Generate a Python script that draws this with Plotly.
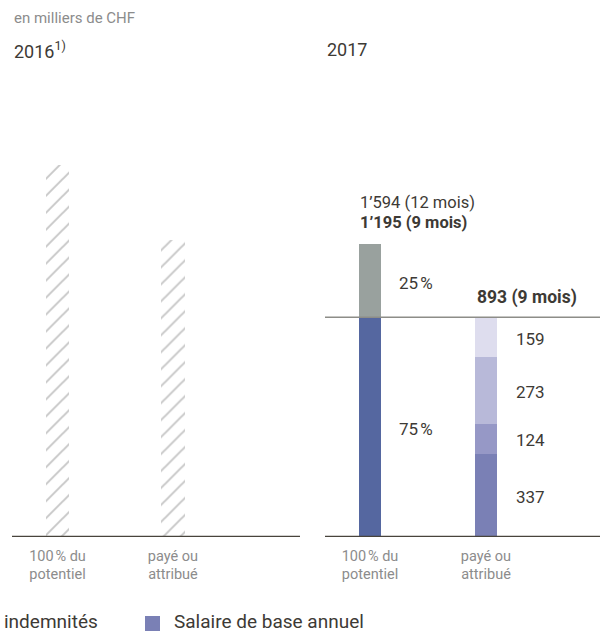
import plotly.graph_objects as go

# ---- data ----
categories = ["100\u202f% du<br>potentiel", "payé ou<br>attribué"]
values_2016 = [1517, 1211]            # hatched bars (2016, unlabelled)
potentiel_9m = 1195                   # 2017, 9 months
potentiel_12m = 1594                  # 2017, 12 months
potentiel_shares = [75, 25]           # % split of potential
paid_segments = [337, 124, 273, 159]  # paid / awarded components (bottom->top)
paid_total = 893

seg_colors = ["#7A80B5", "#9698C6", "#B8B9D9", "#DEDDEE"]
share_colors = ["#5567A0", "#99A19E"]

FONT = "Roboto"
DARK = "#3d3a35"
GREY = "#8c8c8c"

fig = go.Figure()

# 2016 hatched bars
fig.add_trace(go.Bar(
    x=[0, 1], y=values_2016, xaxis="x", yaxis="y", width=0.2,
    marker=dict(color="white", line=dict(width=0),
                pattern=dict(shape="/", fgcolor="#8e8e8e", bgcolor="white",
                             size=12, solidity=0.16)),
    showlegend=False, hoverinfo="skip"))

# 2017 potential split
share_vals = [potentiel_9m * s / 100 for s in potentiel_shares]
for v, c in zip(share_vals, share_colors):
    fig.add_trace(go.Bar(x=[0], y=[v], xaxis="x2", yaxis="y", width=0.19,
                         marker=dict(color=c, line=dict(width=0)),
                         showlegend=False, hoverinfo="skip"))
# 2017 paid segments
for v, c in zip(paid_segments, seg_colors):
    fig.add_trace(go.Bar(x=[1], y=[v], xaxis="x2", yaxis="y", width=0.19,
                         marker=dict(color=c, line=dict(width=0)),
                         showlegend=False, hoverinfo="skip"))

px_per_unit = 293 / potentiel_9m
ymax = (537 - 60) / px_per_unit

tick_common = dict(tickmode="array", tickvals=[0, 1], ticktext=categories,
                   tickfont=dict(family=FONT, size=14.5, color=GREY),
                   showgrid=False, zeroline=False, showline=False, ticks="",
                   ticklabelstandoff=8, fixedrange=True)
fig.update_layout(
    width=600, height=632, autosize=False,
    margin=dict(l=0, r=0, t=0, b=0),
    paper_bgcolor="white", plot_bgcolor="white",
    barmode="stack", bargap=0,
    xaxis=dict(domain=[12/600, 300/600], range=[-0.394, 2.1], anchor="y", **tick_common),
    xaxis2=dict(domain=[325/600, 1.0], range=[-0.388, 1.983], anchor="y", **tick_common),
    yaxis=dict(domain=[95/632, 1 - 60/632], range=[0, ymax], visible=False, fixedrange=True),
)

# baselines and 75% reference line
for xr in ["x domain", "x2 domain"]:
    fig.add_shape(type="line", xref=xr, yref="y", x0=0, x1=1, y0=0, y1=0,
                  line=dict(color="#48443c", width=2.5))
fig.add_shape(type="line", xref="x2 domain", yref="y", x0=0, x1=1,
              y0=share_vals[0], y1=share_vals[0],
              line=dict(color="#8d8d88", width=1.5))

ann = []
def A(size=17, color=DARK, **k):
    base = dict(showarrow=False, font=dict(family=FONT, size=size, color=color))
    base.update(k)
    ann.append(base)

# headers
A(text="en milliers de CHF", xref="paper", yref="paper", x=12/600, y=1 - 18/632,
  xanchor="left", yanchor="middle", size=15, color=GREY)
A(text="2016<sup>1)</sup>", xref="paper", yref="paper", x=12/600, y=1 - 50/632,
  xanchor="left", yanchor="middle", size=18)
A(text="2017", xref="paper", yref="paper", x=325/600, y=1 - 50/632,
  xanchor="left", yanchor="middle", size=18)

# totals above potential bar
A(text=f"{potentiel_12m//1000}’{potentiel_12m%1000:03d} (12 mois)", xref="x2", yref="y",
  x=0, y=potentiel_9m, xanchor="left", yanchor="middle", xshift=-12, yshift=42, size=16.5)
A(text=f"<b>{potentiel_9m//1000}’{potentiel_9m%1000:03d} (9 mois)</b>", xref="x2", yref="y",
  x=0, y=potentiel_9m, xanchor="left", yanchor="middle", xshift=-12, yshift=22, size=16.5)

# share labels
cum = 0
for v, s in zip(share_vals, potentiel_shares):
    A(text=f"{s}\u202f%", xref="x2", yref="y", x=0, y=cum + v / 2,
      xanchor="left", yanchor="middle", xshift=27, yshift=-2)
    cum += v

# paid total
A(text=f"<b>{paid_total} (9 mois)</b>", xref="x2", yref="y", x=1, y=paid_total,
  xanchor="left", yanchor="middle", xshift=-11, yshift=21, size=17.5)

# segment labels
cum = 0
for v in paid_segments:
    A(text=str(v), xref="x2", yref="y", x=1, y=cum + v / 2,
      xanchor="left", yanchor="middle", xshift=28, yshift=-1)
    cum += v

# legend (bottom)
A(text="indemnités", xref="paper", yref="paper", x=2/600, y=1 - 621/632,
  xanchor="left", yanchor="middle", size=19)
A(text="Salaire de base annuel", xref="paper", yref="paper", x=172/600, y=1 - 621/632,
  xanchor="left", yanchor="middle", size=19)
fig.add_shape(type="rect", xref="paper", yref="paper",
              x0=145/600, x1=160/600, y0=1 - 631/632, y1=1 - 616/632,
              fillcolor=seg_colors[0], line=dict(width=0))

fig.update_layout(annotations=ann)
fig.write_html("out.html", config={"displayModeBar": False},
               post_script="document.body.style.margin='0';document.body.style.overflow='hidden';")
